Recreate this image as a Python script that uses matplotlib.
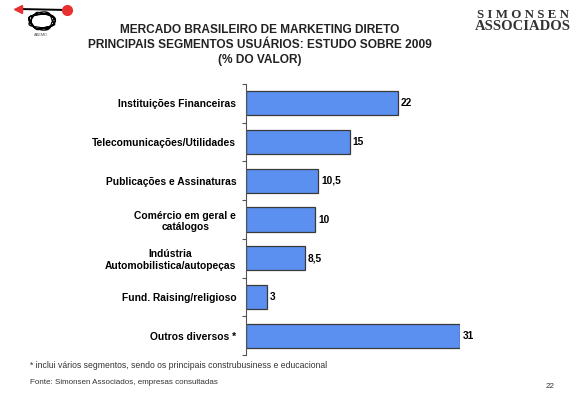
import matplotlib.pyplot as plt
import numpy as np

categorias = ['Instituições Financeiras', 'Telecomunicações/Utilidades',
              'Publicações e Assinaturas', 'Comércio em geral e\ncatálogos',
              'Indústria\nAutomobilistica/autopeças', 'Fund. Raising/religioso',
              'Outros diversos *']
valores = [22, 15, 10.5, 10, 8.5, 3, 31]
rotulos = ['22', '15', '10,5', '10', '8,5', '3', '31']

plt.rcParams['font.family'] = ['Liberation Sans', 'DejaVu Sans']

W, H = 577, 397
fig = plt.figure(figsize=(W / 100, H / 100), dpi=100)
ax = fig.add_axes([246 / W, 1 - 355 / H, (460 - 246) / W, (355 - 84) / H])

y = np.arange(len(categorias))
ax.barh(y, valores, height=0.62, color='#5b8ff0', edgecolor='#3a3a3a', linewidth=0.9)
ax.set_ylim(len(categorias) - 0.5, -0.5)
ax.set_xlim(0, 31)

for yi, v, r in zip(y, valores, rotulos):
    ax.text(v + 0.45, yi, r, va='center', ha='left', fontsize=7.3, fontweight='bold', clip_on=False)

ax.set_yticks(y)
ax.set_yticklabels(categorias, fontsize=7.4, fontweight='bold', multialignment='center')
ax.tick_params(axis='y', which='major', length=0, pad=7)
ax.set_yticks(np.arange(-0.5, len(categorias)), minor=True)
ax.tick_params(axis='y', which='minor', length=3, width=0.8, color='#555555', direction='out')
ax.set_xticks([])
for s in ['top', 'right', 'bottom']:
    ax.spines[s].set_visible(False)
ax.spines['left'].set_color('#555555')
ax.spines['left'].set_linewidth(0.8)

# titulo
titulo = ['MERCADO BRASILEIRO DE MARKETING DIRETO',
          'PRINCIPAIS SEGMENTOS USUÁRIOS: ESTUDO SOBRE 2009',
          '(% DO VALOR)']
for i, linha in enumerate(titulo):
    fig.text(260 / W, 1 - (30 + 15 * i) / H, linha, ha='center', va='center',
             fontsize=8.6, fontweight='bold', color='#222222')

fig.text(523 / W, 1 - 15 / H, 'S I M O N S E N', ha='center', va='center', fontsize=9.4,
         fontweight='bold', family='Liberation Serif', color='#333333')
fig.text(523 / W, 1 - 27 / H, 'ASSOCIADOS', ha='center', va='center', fontsize=10.5,
         fontweight='bold', family='Liberation Serif', color='#333333')

# logo simplificado
lg = fig.add_axes([0, 1 - 45 / H, 90 / W, 45 / H])
lg.set_xlim(0, 90)
lg.set_ylim(45, 0)
lg.axis('off')
t = np.linspace(0, 8 * np.pi, 300)
lg.plot(42 + 12 * np.cos(t) + 1.5 * np.sin(3.3 * t), 21 + 8 * np.sin(t) + 1.2 * np.cos(2.7 * t),
        color='black', lw=0.9)
lg.plot([19, 67], [9, 10], color='black', lw=1.4)
lg.plot([18], [9], marker='<', color='#e83030', ms=6)
lg.plot([67], [10], marker='o', color='#e83030', ms=7)
lg.text(41, 35, 'ABEMD', ha='center', va='center', fontsize=2.8, color='#555555')

# notas
fig.text(30 / W, 1 - 366 / H, '* inclui vários segmentos, sendo os principais construbusiness e educacional',
         fontsize=6.2, va='center', color='#333333')
fig.text(30 / W, 1 - 382 / H, 'Fonte: Simonsen Associados, empresas consultadas',
         fontsize=5.8, va='center', color='#333333')
fig.text(550 / W, 1 - 386 / H, '22', fontsize=5.8, ha='center', va='center', color='#333333')

fig.savefig('out.png', dpi=100)
